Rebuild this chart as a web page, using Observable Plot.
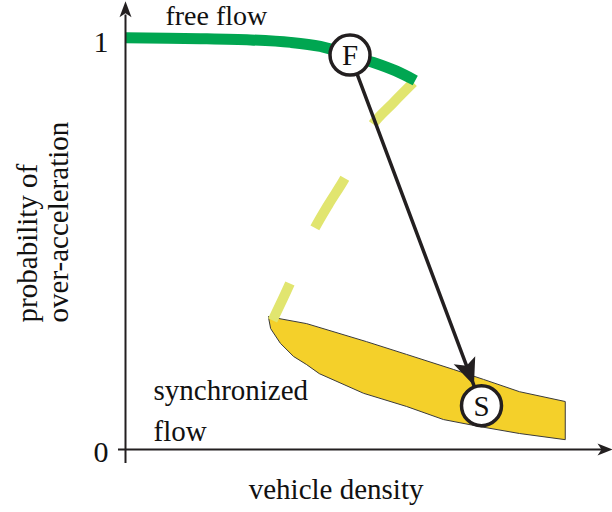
<!DOCTYPE html>
<html><head><meta charset="utf-8">
<script src="https://cdn.jsdelivr.net/npm/d3@7"></script>
<script src="https://cdn.jsdelivr.net/npm/@observablehq/plot@0.6"></script>
<style>body{margin:0;background:#fff} svg text{font-family:"Liberation Serif","Times New Roman",serif}</style>
</head><body><div id="chart"></div>
<script>
// ---- data (x: vehicle density, arbitrary units 0..10; y: probability 0..1)
const yTicks = [0, 1];
const freeFlowX = [0, 1.54, 2.57, 3.39, 4.00, 4.62, 5.09, 5.54, 5.95];
const freeFlowY = [1.004, 1.002, 0.999, 0.993, 0.983, 0.961, 0.944, 0.924, 0.900];
const dashX = [5.91, 5.50, 5.09, 4.78, 4.50, 4.17, 3.86, 3.59, 3.35, 3.02];
const dashY = [0.895, 0.846, 0.795, 0.729, 0.661, 0.598, 0.534, 0.466, 0.398, 0.315];
const synX = [2.94, 3.72, 4.95, 5.77, 6.74, 7.35, 8.09, 9.03, 9.03, 8.09, 7.27, 6.53, 5.77, 4.89, 3.98, 3.72, 3.45, 3.18, 2.98, 2.94, 2.94];
const synY = [0.324, 0.307, 0.263, 0.232, 0.195, 0.171, 0.141, 0.117, 0.024, 0.039, 0.056, 0.073, 0.105, 0.137, 0.185, 0.207, 0.227, 0.259, 0.295, 0.320, 0.324];
const stateLabel = ["F", "S"];
const stateX = [4.61, 7.31];
const stateY = [0.962, 0.107];

const freeFlow = freeFlowX.map((x, i) => ({x, y: freeFlowY[i]}));
const dashed = dashX.map((x, i) => ({x, y: dashY[i]}));
const region = synX.map((x, i) => ({x, y: synY[i]}));
const states = stateLabel.map((s, i) => ({s, x: stateX[i], y: stateY[i]}));

const W = 612, H = 512, mL = 125, mR = 0, mT = 39, mB = 63;
const xDomain = [0, 10], yDomain = [0, 1];
const sx = Plot.scale({x: {domain: xDomain, range: [mL, W - mR]}});
const sy = Plot.scale({y: {domain: yDomain, range: [H - mB, mT]}});

function arrowHead(R, L, w, notch) {
  return {draw(ctx) {
    ctx.moveTo(0, R);
    ctx.lineTo(w / 2, R + L);
    ctx.lineTo(0, R + L - notch);
    ctx.lineTo(-w / 2, R + L);
    ctx.closePath();
  }};
}
// direction F -> S in pixels
const dx = sx.apply(stateX[1]) - sx.apply(stateX[0]);
const dy = sy.apply(stateY[1]) - sy.apply(stateY[0]);
const angFS = Math.atan2(dx, -dy) * 180 / Math.PI;

const ink = "#231f20";
const font = "Liberation Serif";

const chart = Plot.plot({
  width: W, height: H,
  marginLeft: mL, marginRight: mR, marginTop: mT, marginBottom: mB,
  x: {domain: xDomain, axis: null},
  y: {domain: yDomain, axis: null},
  style: {fontFamily: "Liberation Serif, serif", background: "#fff", color: ink, overflow: "visible"},
  marks: [
    // synchronized flow region
    Plot.line(region, {x: "x", y: "y", fill: "#f4d02a", stroke: "#3a3a3a", strokeWidth: 1, curve: "linear"}),
    // dashed (unstable) branch
    Plot.line(dashed, {x: "x", y: "y", stroke: "#e1e56f", strokeWidth: 10, strokeDasharray: "58,61", strokeLinecap: "butt", curve: "catmull-rom"}),
    // free flow branch
    Plot.line(freeFlow, {x: "x", y: "y", stroke: "#00a651", strokeWidth: 11, strokeLinecap: "butt", curve: "catmull-rom"}),
    // F -> S transition line
    Plot.line(states, {x: "x", y: "y", stroke: ink, strokeWidth: 3.5}),
    // state circles
    Plot.dot(states, {x: "x", y: "y", r: 20, fill: "#fff", stroke: ink, strokeWidth: 3.5}),
    Plot.text(states, {x: "x", y: "y", text: "s", fontSize: 29, fontFamily: font, fill: "#111", dy: 1}),
    // arrow head at S
    Plot.dot([states[1]], {x: "x", y: "y", r: 1, symbol: arrowHead(21.5, 27, 23, 6), fill: ink, stroke: "none", rotate: angFS}),
    // axes
    Plot.ruleX([0], {y1: -0.034, y2: 1.06, stroke: ink, strokeWidth: 2}),
    Plot.ruleY([0], {x1: -0.144, x2: 9.8, stroke: ink, strokeWidth: 2}),
    Plot.dot([0], {x: 0, y: 1.093, r: 1, symbol: arrowHead(0, 16, 12, 4), fill: ink, stroke: "none", rotate: 0}),
    Plot.dot([0], {x: 10, y: 0, r: 1, symbol: arrowHead(0, 15, 12, 4), fill: ink, stroke: "none", rotate: 90}),
    // tick labels
    Plot.text(yTicks, {x: 0, y: d => d, text: d => String(d), textAnchor: "end", dx: -17, dy: 3, fontSize: 30, fontFamily: font, fill: "#111"}),
    // annotations
    Plot.text(["free flow"], {x: 0.82, y: 1.058, text: d => d, textAnchor: "start", fontSize: 28, fontFamily: font, fill: "#111"}),
    Plot.text(["synchronized\nflow"], {x: 0.575, y: 0.102, text: d => d, textAnchor: "start", fontSize: 29, lineHeight: 1.41, fontFamily: font, fill: "#111"}),
    Plot.text(["vehicle density"], {x: 2.53, y: -0.097, text: d => d, textAnchor: "start", fontSize: 29, fontFamily: font, fill: "#111"}),
    Plot.text(["probability of\nover-acceleration"], {x: -1.70, y: 0.310, text: d => d, textAnchor: "start", rotate: -90, fontSize: 29, lineHeight: 1.07, fontFamily: font, fill: "#111"})
  ]
});
document.getElementById("chart").appendChild(chart);
</script>
</body></html>
